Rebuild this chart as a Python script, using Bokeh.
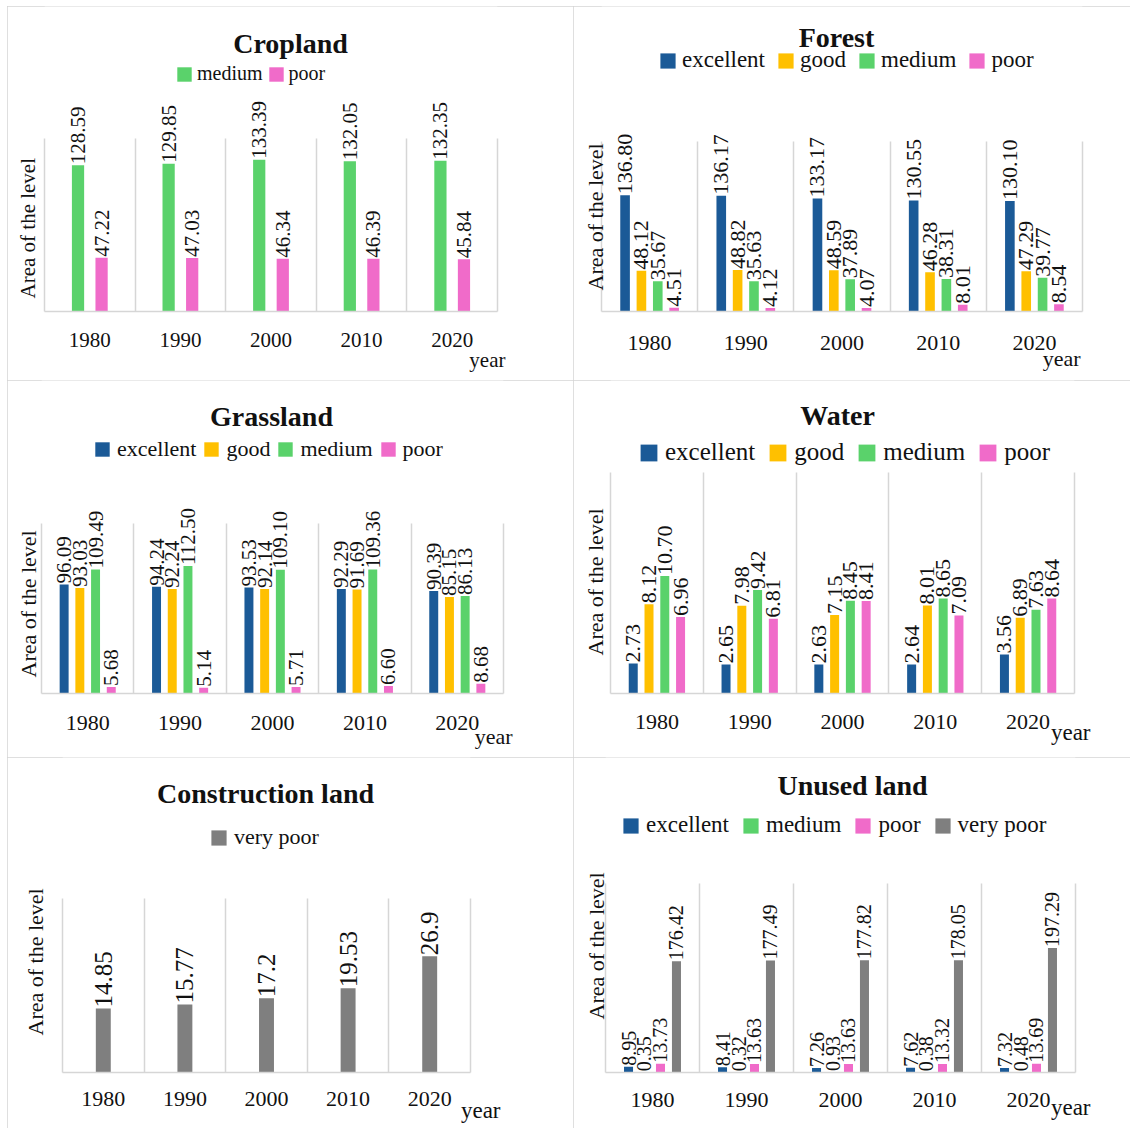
import math
from bokeh.plotting import figure
from bokeh.models import (ColumnDataSource, FactorRange, Range1d, Legend, LegendItem,
                          Label, LabelSet, FixedTicker, LinearAxis, Title, Spacer)
from bokeh.transform import dodge
from bokeh.layouts import column, row
from bokeh.core.properties import value
from bokeh.embed import file_html
from bokeh.resources import INLINE

# ---------------- data ----------------
years = ["1980", "1990", "2000", "2010", "2020"]

cropland_medium = [128.59, 129.85, 133.39, 132.05, 132.35]
cropland_poor = [47.22, 47.03, 46.34, 46.39, 45.84]

forest_excellent = [136.80, 136.17, 133.17, 130.55, 130.10]
forest_good = [48.12, 48.82, 48.59, 46.28, 47.29]
forest_medium = [35.67, 35.63, 37.89, 38.31, 39.77]
forest_poor = [4.51, 4.12, 4.07, 8.01, 8.54]

grassland_excellent = [96.09, 94.24, 93.53, 92.29, 90.39]
grassland_good = [93.03, 92.24, 92.14, 91.69, 85.15]
grassland_medium = [109.49, 112.50, 109.10, 109.36, 86.13]
grassland_poor = [5.68, 5.14, 5.71, 6.60, 8.68]

water_excellent = [2.73, 2.65, 2.63, 2.64, 3.56]
water_good = [8.12, 7.98, 7.15, 8.01, 6.89]
water_medium = [10.70, 9.42, 8.45, 8.65, 7.63]
water_poor = [6.96, 6.81, 8.41, 7.09, 8.64]

construction_very_poor = [14.85, 15.77, 17.2, 19.53, 26.9]

unused_excellent = [8.95, 8.41, 7.26, 7.62, 7.32]
unused_medium = [0.35, 0.32, 0.93, 0.38, 0.48]
unused_poor = [13.73, 13.63, 13.63, 13.32, 13.69]
unused_very_poor = [176.42, 177.49, 177.82, 178.05, 197.29]

COLORS = {"excellent": "#1b5a97", "good": "#ffc000", "medium": "#5ad26b",
          "poor": "#f06bc9", "very poor": "#7f7f7f"}
SERIF = "Liberation Serif"
LINE = "#d6d6d6"
TEXT = "#111111"


def make_panel(title, series, fmt, W, H, origin, frame, y_sep, bar_w, offsets,
               title_c, title_fs, leg_left, leg_cy, leg_fs, sq, leg_standoff, leg_spacing,
               ylab_fs, ylab_base, ylab_bottom, tick_fs, tick_cy,
               year_right, year_cy, year_fs, val_fs):
    ox, oy = origin
    fl, ft, fr, fb = frame[0] - ox, frame[1] - oy, frame[2] - ox, frame[3] - oy
    # frame spans from the panel top down to the baseline; separators stop at y_sep
    y_end = y_sep * fb / (fb - ft)
    p = figure(width=W, height=H,
               x_range=FactorRange(*years, range_padding=0),
               y_range=Range1d(0, y_end),
               toolbar_location=None, output_backend="svg", title=None,
               min_border_left=fl, min_border_right=W - fr,
               min_border_top=0, min_border_bottom=H - fb,
               outline_line_color=None, background_fill_color="white",
               border_fill_color="white",
               styles={"outline": "1px solid #d4d4d4", "outline-offset": "-1px"})

    data = {"year": years}
    for name, vals in series:
        data[name] = vals
        data[name + "_lbl"] = [fmt(v) for v in vals]
    src = ColumnDataSource(data)

    items = []
    for (name, vals), off in zip(series, offsets):
        xd = dodge("year", off, range=p.x_range)
        r = p.vbar(x=xd, top=name, width=bar_w, source=src,
                   fill_color=COLORS[name], line_color=None)
        items.append(LegendItem(label=name, renderers=[r]))
        ls = LabelSet(x=xd, y=name, text=name + "_lbl", source=src,
                      angle=math.pi / 2, text_align="left", text_baseline="middle",
                      y_offset=1, text_font=value(SERIF),
                      text_font_size=f"{val_fs}px", text_color=TEXT)
        p.add_layout(ls)

    # x axis
    p.xaxis.axis_line_color = LINE
    p.xaxis.axis_line_width = 1.5
    p.xaxis.major_tick_line_color = None
    p.xaxis.minor_tick_line_color = None
    p.xaxis.major_label_text_font = SERIF
    p.xaxis.major_label_text_font_size = f"{tick_fs}px"
    p.xaxis.major_label_text_color = TEXT
    tick_so = int(round(tick_cy - frame[3] - 0.68 * tick_fs))
    p.xaxis.major_label_standoff = tick_so

    # category separators
    grid = p.xgrid[0]
    if "cross_bounds" in grid.properties():
        grid.ticker = FixedTicker(ticks=[1, 2, 3, 4])
        grid.cross_bounds = (0, y_sep)
        grid.grid_line_color = LINE
        grid.grid_line_width = 1.5
    else:
        grid.visible = False
        sep = ColumnDataSource({"year": years[:-1], "y0": [0] * 4, "y1": [y_sep] * 4})
        sx = dodge("year", 0.5, range=p.x_range)
        p.segment(x0=sx, x1=sx, y0="y0", y1="y1", source=sep,
                  line_color=LINE, line_width=1.5, level="underlay")
    p.ygrid.visible = False

    # left / right edges (axes bounded to the separator height)
    p.yaxis.ticker = FixedTicker(ticks=[])
    p.yaxis.bounds = (0, y_sep)
    p.yaxis.axis_line_color = LINE
    p.yaxis.axis_line_width = 1.5
    p.yaxis.major_tick_line_color = None
    p.yaxis.minor_tick_line_color = None
    p.yaxis.major_label_standoff = 0
    right_axis = LinearAxis(ticker=FixedTicker(ticks=[]), bounds=(0, y_sep),
                            axis_line_color=LINE, axis_line_width=1.5,
                            major_tick_line_color=None, minor_tick_line_color=None,
                            major_label_standoff=0)
    p.add_layout(right_axis, "right")

    # y caption
    hy = 1.107 * ylab_fs
    ystand = 2 * (frame[0] - ylab_base - 0.216 * ylab_fs)
    valign = "bottom"
    if hy + ystand > fl - 1:
        valign = "middle"
        ystand = fl - hy - 1
    p.add_layout(Title(text="Area of the level", align="left", vertical_align=valign,
                       offset=frame[3] - ylab_bottom, standoff=int(round(ystand)),
                       text_font=SERIF, text_font_style="normal",
                       text_font_size=f"{ylab_fs}px", text_color=TEXT), "left")

    # "year" caption under the axis
    xaxis_h = tick_so + 1.107 * tick_fs
    ytop = year_cy - 0.776 * year_fs
    yst = int(round(2 * (ytop - frame[3] - xaxis_h))) + 8
    p.add_layout(Title(text="year", align="right", vertical_align="top",
                       offset=frame[2] - year_right, standoff=yst,
                       text_font=SERIF, text_font_style="normal",
                       text_font_size=f"{year_fs}px", text_color=TEXT), "below")

    # legend
    g = int(round(sq / 0.8))
    h = max(g, 1.107 * leg_fs)
    leg = Legend(items=items, orientation="horizontal",
                 location=(int(round(leg_left - 0.1 * g - frame[0])),
                           int(round(frame[3] - leg_cy - h / 2))),
                 glyph_width=g, glyph_height=g, label_standoff=leg_standoff,
                 spacing=leg_spacing, padding=0, margin=0,
                 label_text_font=SERIF, label_text_font_size=f"{leg_fs}px",
                 label_text_color=TEXT, label_height=leg_fs,
                 background_fill_alpha=0, border_line_color=None)
    p.add_layout(leg)

    # chart title
    p.add_layout(Label(x=title_c[0] - frame[0], y=frame[3] - title_c[1],
                       x_units="screen", y_units="screen", text=title,
                       text_align="center", text_baseline="middle",
                       text_font=SERIF, text_font_style="bold",
                       text_font_size=f"{title_fs}px", text_color=TEXT))
    return p


two = lambda v: f"{v:.2f}"
plain = lambda v: f"{v:g}"
off4 = [-0.255, -0.085, 0.085, 0.255]

p1 = make_panel("Cropland", [("medium", cropland_medium), ("poor", cropland_poor)], two,
                566, 374, (7, 6), (44, 138, 497, 311), 152, 0.135, [-0.13, 0.13],
                (290, 43), 28, 177, 74, 20, 14, 4, 4,
                21, 35, 298, 21, 340, 505, 360, 21, 21)

p2 = make_panel("Forest", [("excellent", forest_excellent), ("good", forest_good),
                           ("medium", forest_medium), ("poor", forest_poor)], two,
                557, 374, (573, 6), (601, 142, 1082, 313), 200, 0.1, off4,
                (836, 39), 28, 660, 62, 23, 15, 5, 11,
                22, 602, 292, 22, 346, 1080, 362, 22, 22)

p3 = make_panel("Grassland", [("excellent", grassland_excellent), ("good", grassland_good),
                              ("medium", grassland_medium), ("poor", grassland_poor)], two,
                566, 377, (7, 380), (41, 523, 503, 693), 150, 0.097, off4,
                (271, 416), 28, 95, 450, 22, 14, 6, 6,
                22, 35, 677, 22, 724, 512, 738, 22, 21)

p4 = make_panel("Water", [("excellent", water_excellent), ("good", water_good),
                          ("medium", water_medium), ("poor", water_poor)], two,
                557, 377, (573, 380), (610, 473, 1074, 696), 20.1, 0.097, off4,
                (837, 418), 28, 640, 455, 25, 17, 6, 12,
                22, 602, 658, 22, 726, 1090, 737, 23, 22)

p5 = make_panel("Construction land", [("very poor", construction_very_poor)], plain,
                566, 371, (7, 757), (60, 898, 470, 1072), 40.3, 0.183, [0.0],
                (263, 793), 28, 209, 838, 22, 15, 6, 6,
                22, 35, 1035, 22, 1100, 500, 1112, 23, 25)

p6 = make_panel("Unused land", [("excellent", unused_excellent), ("medium", unused_medium),
                                ("poor", unused_poor), ("very poor", unused_very_poor)], two,
                557, 371, (573, 757), (605, 885, 1075, 1076), 299, 0.096, off4,
                (852, 789), 28, 623, 829, 23, 15, 6, 12,
                22, 603, 1023, 22, 1105, 1090, 1113, 23, 20)

grid_layout = column(row(p1, p2), row(p3, p4), row(p5, p6))
layout = row(Spacer(width=7), column(Spacer(height=6), grid_layout))

with open("out.html", "w") as f:
    f.write(file_html(layout, INLINE))
